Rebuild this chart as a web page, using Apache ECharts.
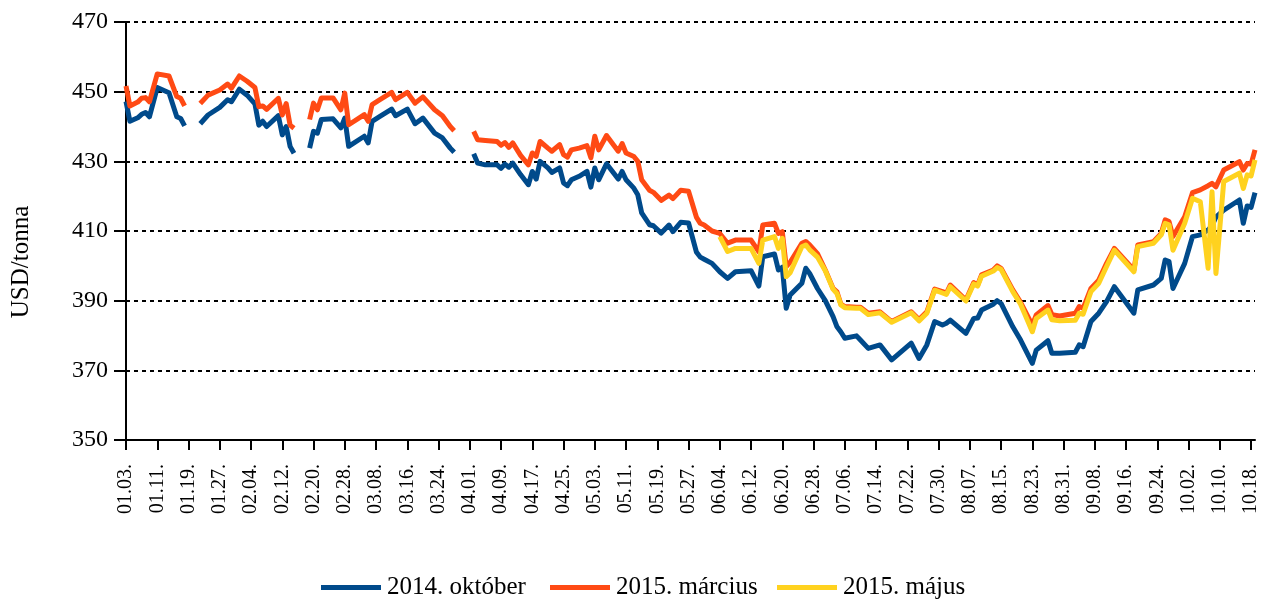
<!DOCTYPE html>
<html>
<head>
<meta charset="utf-8">
<script src="https://cdn.jsdelivr.net/npm/echarts@6/dist/echarts.min.js"></script>
<style>
html,body{margin:0;padding:0;background:#fff;}
#chart{width:1268px;height:600px;}
</style>
</head>
<body>
<div id="chart"></div>
<script>
// Axis span (daily calendar categories)
const startMonth = 1, startDay = 3, endMonth = 10, endDay = 19;
const monthLengths = [31,28,31,30,31,30,31,31,30,31,30,31];

// Sample dates (MM.DD.) and values; null = gap in the data
const dates = [
"01.03.","01.04.","01.06.","01.07.","01.08.","01.09.","01.11.","01.14.","01.16.","01.17.","01.18.","01.20.",
"01.22.","01.24.","01.27.","01.29.","01.30.","02.01.","02.03.","02.05.","02.06.","02.07.","02.08.","02.11.",
"02.12.","02.13.","02.14.","02.15.","02.17.","02.19.","02.20.","02.21.","02.22.","02.25.","02.27.","02.28.",
"03.01.","03.05.","03.06.","03.07.","03.09.","03.12.","03.13.","03.16.","03.18.","03.20.","03.23.","03.25.",
"03.27.","03.28.","03.30.","04.02.","04.03.","04.05.","04.08.","04.09.","04.10.","04.11.","04.12.","04.14.",
"04.16.","04.17.","04.18.","04.19.","04.21.","04.22.","04.24.","04.25.","04.26.","04.27.","04.29.","05.01.",
"05.02.","05.03.","05.04.","05.06.","05.09.","05.10.","05.11.","05.13.","05.14.","05.15.","05.17.","05.18.",
"05.20.","05.22.","05.23.","05.25.","05.27.","05.29.","05.30.","05.31.","06.02.","06.04.","06.06.","06.08.",
"06.12.","06.14.","06.15.","06.18.","06.19.","06.20.","06.21.","06.22.","06.25.","06.26.","06.27.","06.29.",
"07.01.","07.03.","07.04.","07.05.","07.06.","07.09.","07.10.","07.12.","07.15.","07.18.","07.23.","07.25.",
"07.27.","07.29.","07.31.","08.01.","08.02.","08.06.","08.08.","08.09.","08.10.","08.13.","08.14.","08.15.",
"08.18.","08.20.","08.23.","08.24.","08.27.","08.28.","08.30.","09.03.","09.04.","09.05.","09.07.","09.09.",
"09.11.","09.13.","09.18.","09.19.","09.23.","09.25.","09.26.","09.27.","09.28.","10.01.","10.03.","10.05.",
"10.07.","10.08.","10.09.","10.11.","10.15.","10.16.","10.17.","10.18.","10.19."
];

const oct2014 = [
447.2,441.5,442.5,443.5,444.0,442.8,451.2,449.7,442.8,442.3,440.2,null,
440.8,443.3,445.5,447.7,447.1,450.7,449.0,446.5,440.4,441.5,440.0,443.1,
437.6,440.0,434.3,432.3,null,433.8,438.6,438.1,442.0,442.2,439.6,442.4,
434.3,437.2,435.3,441.5,442.9,445.0,443.1,445.0,440.8,442.4,438.1,436.7,
433.8,432.6,null,432.2,429.5,429.0,429.0,428.0,429.2,428.3,429.5,426.2,
423.3,427.1,424.9,430.0,428.1,426.8,428.1,423.8,423.0,424.7,425.7,427.1,
422.6,428.1,424.7,429.3,424.9,427.1,424.7,422.3,420.4,415.2,411.8,411.5,
409.4,411.7,409.8,412.5,412.3,404.0,402.5,401.9,400.7,398.3,396.4,398.3,
398.6,394.2,402.6,403.4,398.8,399.6,387.8,391.6,395.0,399.3,397.8,393.5,
390.0,385.4,382.5,381.0,379.2,379.9,378.7,376.3,377.3,373.0,377.8,373.4,
377.3,384.0,383.0,383.5,384.4,380.6,384.9,385.0,387.3,389.0,390.0,389.2,
382.5,378.7,372.0,375.8,378.5,374.9,374.9,375.2,377.3,376.8,384.0,386.4,
389.7,394.0,386.4,393.1,394.5,396.4,401.7,401.2,393.5,400.7,408.4,408.9,
410.3,411.5,414.0,416.0,418.9,412.2,417.2,416.8,421.0
];

const mar2015 = [
451.6,445.9,447.0,448.1,448.3,447.1,455.1,454.5,448.6,448.1,445.9,null,
446.6,449.0,450.5,452.2,451.0,454.5,453.0,451.2,445.7,445.9,444.9,448.1,
443.3,446.6,440.4,439.5,null,442.0,446.7,444.8,448.2,448.2,444.8,449.6,
440.5,443.4,441.5,446.3,447.7,449.8,447.7,449.8,446.7,448.5,444.8,443.1,
440.0,438.8,null,438.6,436.2,436.0,435.7,434.6,435.4,434.0,435.3,431.7,
429.0,432.4,431.4,435.7,433.8,432.9,434.8,431.9,431.2,433.3,433.8,434.5,
431.0,437.2,433.3,437.4,432.9,435.1,432.4,431.4,430.0,424.7,421.7,421.1,
418.8,420.3,419.3,421.7,421.4,414.0,412.2,411.7,410.0,409.3,406.5,407.4,
407.4,404.0,411.7,412.2,409.3,409.8,399.8,401.0,406.5,407.0,406.0,403.5,
398.8,393.5,392.5,389.0,388.3,388.1,388.1,386.4,386.8,384.0,386.8,384.6,
386.8,393.3,392.6,392.1,394.5,390.2,395.2,394.5,397.4,398.8,400.0,399.3,
393.1,389.5,383.0,385.9,388.6,386.0,385.6,386.4,388.3,387.8,393.5,395.9,
400.7,405.0,398.8,406.0,406.9,409.3,413.2,412.7,408.4,414.1,421.0,421.8,
423.0,423.7,422.7,427.5,429.9,427.5,429.4,429.2,433.3
];

const may2015 = [
null,null,null,null,null,null,null,null,null,null,null,null,
null,null,null,null,null,null,null,null,null,null,null,null,
null,null,null,null,null,null,null,null,null,null,null,null,
null,null,null,null,null,null,null,null,null,null,null,null,
null,null,null,null,null,null,null,null,null,null,null,null,
null,null,null,null,null,null,null,null,null,null,null,null,
null,null,null,null,null,null,null,null,null,null,null,null,
null,null,null,null,null,null,null,null,null,408.4,404.1,405.0,
405.0,400.7,407.4,408.4,405.0,407.9,396.9,398.0,405.5,406.0,404.6,402.5,
398.6,393.3,392.0,388.8,388.0,387.8,387.8,386.0,386.5,383.8,386.5,384.2,
386.4,393.0,392.2,391.8,394.0,389.9,394.8,394.2,397.0,398.5,399.5,399.0,
392.6,389.0,381.1,384.9,387.3,384.5,384.2,384.4,386.4,386.1,392.6,395.0,
399.8,404.5,398.3,405.5,406.5,408.9,412.2,411.8,404.5,412.2,419.4,418.4,
399.3,421.3,397.8,424.2,426.6,422.2,426.1,425.8,430.4
];

const seriesNames = ["2014. október", "2015. március", "2015. május"];
const seriesColors = ["#004A8B", "#FF4A14", "#FFD21F"];
const yTicks = [350, 370, 390, 410, 430, 450, 470];

// Build daily categories
const pad = n => (n < 10 ? "0" : "") + n;
const categories = [];
for (let m = startMonth; m <= endMonth; m++) {
  const first = (m === startMonth) ? startDay : 1;
  const last = (m === endMonth) ? endDay : monthLengths[m - 1];
  for (let d = first; d <= last; d++) categories.push(pad(m) + "." + pad(d) + ".");
}

const toPairs = vals => dates.map((d, i) => [d, vals[i] === null ? null : vals[i]]);
const allValues = [oct2014, mar2015, may2015];

const FONT = "'Liberation Serif', 'Times New Roman', serif";
const chart = echarts.init(document.getElementById('chart'));

const legends = seriesNames.map((n, i) => ({
  data: [n],
  left: [321, 550, 777][i],
  top: 575,
  padding: 0,
  icon: 'rect',
  itemWidth: 60,
  itemHeight: 5,
  itemGap: 0,
  textStyle: { fontFamily: FONT, fontSize: 25, color: '#000', padding: [0, 0, 0, 1] }
}));

chart.setOption({
  animation: false,
  backgroundColor: '#fff',
  grid: { left: 126, right: 13, top: 22, bottom: 160, containLabel: false },
  legend: legends,
  graphic: [{
    type: 'text',
    x: 21, y: 262,
    rotation: Math.PI / 2,
    style: { text: 'USD/tonna', font: "25px " + FONT, fill: '#000', align: 'center', verticalAlign: 'middle' }
  }],
  xAxis: {
    type: 'category',
    data: categories,
    boundaryGap: false,
    axisLine: { lineStyle: { color: '#000', width: 2 } },
    axisTick: { interval: 7, length: 10, lineStyle: { color: '#000', width: 2 } },
    axisLabel: { interval: 7, rotate: 90, margin: 24, color: '#000', fontFamily: FONT, fontSize: 20 },
    splitLine: { show: false }
  },
  yAxis: {
    type: 'value',
    min: yTicks[0], max: yTicks[yTicks.length - 1], interval: 20,
    axisLine: { show: true, lineStyle: { color: '#000', width: 2 } },
    axisTick: { show: true, length: 12, lineStyle: { color: '#000', width: 2 } },
    axisLabel: { margin: 18, color: '#000', fontFamily: FONT, fontSize: 24 },
    splitLine: { show: true, lineStyle: { color: '#000', width: 2, type: [4, 4] } }
  },
  series: seriesNames.map((n, i) => ({
    name: n,
    type: 'line',
    data: toPairs(allValues[i]),
    showSymbol: false,
    symbol: 'none',
    connectNulls: false,
    lineStyle: { color: seriesColors[i], width: 5, join: 'round' },
    itemStyle: { color: seriesColors[i] },
    z: 2 + i
  }))
});
</script>
</body>
</html>
